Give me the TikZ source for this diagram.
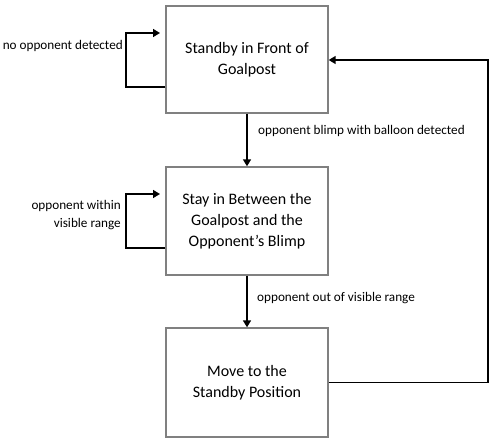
\documentclass[tikz,border=0pt]{standalone}
\usepackage{fontspec}
\setmainfont{Carlito}
\usetikzlibrary{arrows.meta}
\begin{document}
\begin{tikzpicture}[x=1pt,y=-1pt,
  state/.style={draw=black!50,line width=1.4pt,minimum width=162pt,minimum height=107pt,inner sep=0pt,align=center,font=\fontsize{16}{21}\selectfont},
  lbl/.style={inner sep=0pt,font=\fontsize{13.2}{17.5}\selectfont},
  arr/.style={draw=black,line width=1.6pt,-{Triangle[length=7pt,width=8pt]}}]
\useasboundingbox (0,0) rectangle (493,439);
\node[state] (b1) at (247,59.5) {Standby in Front of\\Goalpost};
\node[state,minimum height=108pt] (b2) at (247,221) {Stay in Between the\\Goalpost and the\\Opponent’s Blimp};
\node[state,minimum height=109pt] (b3) at (247,382.5) {Move to the\\Standby Position};
\coordinate (l1a) at (126,87);
\coordinate (l1b) at (126,33);
\coordinate (l1e) at (160,33);
\coordinate (l2a) at (126,248);
\coordinate (l2b) at (126,194);
\coordinate (l2e) at (160,194);
\coordinate (r1) at (488,382.5);
\coordinate (r2) at (488,60);
\draw[arr] (b1.south) -- (b2.north);
\draw[arr] (b2.south) -- (b3.north);
\draw[arr] (l1a -| b1.west) -- (l1a) -- (l1b) -- (l1e);
\draw[arr] (l2a -| b2.west) -- (l2a) -- (l2b) -- (l2e);
\draw[arr] (b3.east) -- (r1) -- (r2) -- (r2 -| b1.east);
\node[lbl,anchor=east] (t1) at (123,46) {no opponent detected};
\node[lbl,anchor=east,align=right] (t2) at (121,215) {opponent within\\visible range};
\node[lbl,anchor=west] (t3) at (258,131) {opponent blimp with balloon detected};
\node[lbl,anchor=west] (t4) at (257,298) {opponent out of visible range};
\end{tikzpicture}
\end{document}
